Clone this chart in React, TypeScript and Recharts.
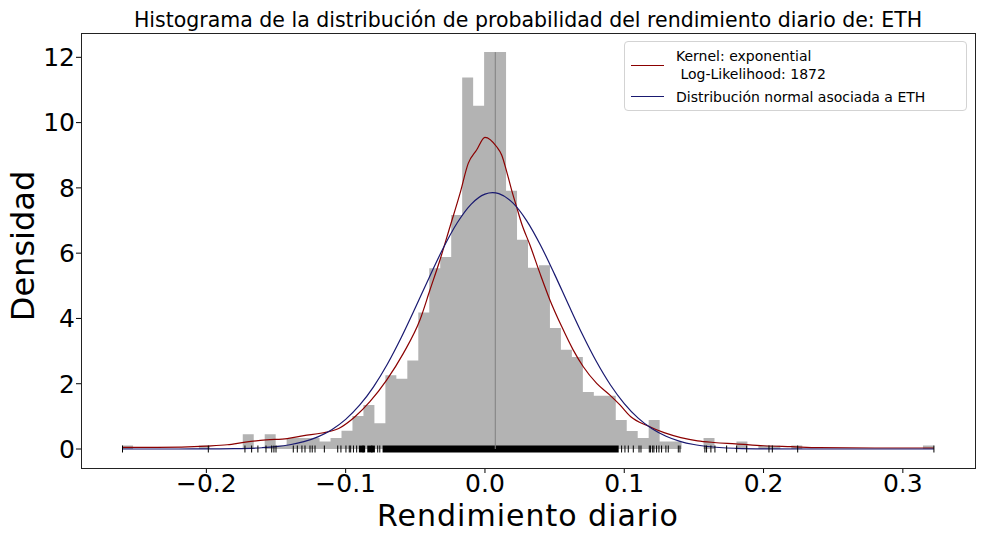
import React from "react";
import { ComposedChart, Area, Line, Scatter, XAxis, YAxis } from "recharts";

// histogram: 74 bins between min and max of daily returns
const histMin = -0.2605;
const histMax = 0.3223;
const histHeights = [
  0.11, 0, 0, 0, 0, 0, 0, 0.11, 0, 0, 0, 0.45, 0, 0.45, 0.11, 0.34, 0.34, 0.34,
  0.23, 0.34, 0.56, 1.01, 1.35, 0.79, 2.26, 2.15, 2.71, 4.18, 5.54, 5.88, 7.17,
  11.38, 10.52, 12.16, 12.16, 7.91, 6.41, 5.55, 5.63, 3.71, 3.04, 2.82, 1.75,
  1.63, 1.63, 0.89, 0.55, 0.34, 0.89, 0.23, 0.23, 0, 0, 0.34, 0, 0, 0.23, 0,
  0.11, 0.11, 0, 0.11, 0, 0, 0, 0, 0, 0, 0, 0, 0, 0, 0, 0.11,
];

// kernel density (exponential kernel)
const kdeX = [
  -0.2605, -0.235, -0.2, -0.185, -0.172, -0.157, -0.142, -0.13, -0.117, -0.105,
  -0.0933, -0.0826, -0.0706, -0.0586, -0.0467, -0.0395, -0.0323, -0.0251,
  -0.0179, -0.012, -0.006, 0.0, 0.0084, 0.012, 0.0156, 0.0191, 0.0227, 0.0263,
  0.0323, 0.0395, 0.0467, 0.0551, 0.0634, 0.0706, 0.0802, 0.0897, 0.0969,
  0.1047, 0.1167, 0.1286, 0.1406, 0.1526, 0.1645, 0.18, 0.2, 0.22, 0.24, 0.28,
  0.3223,
];
const kdeY = [
  0.05, 0.05, 0.09, 0.13, 0.21, 0.28, 0.32, 0.41, 0.49, 0.63, 0.99, 1.45, 2.11,
  2.93, 3.95, 4.87, 5.79, 6.81, 7.83, 8.75, 9.16, 9.55, 9.26, 9.01, 8.5, 7.94,
  7.42, 6.91, 6.25, 5.38, 4.56, 3.75, 3.03, 2.52, 2.01, 1.65, 1.35, 0.99, 0.71,
  0.5, 0.35, 0.25, 0.2, 0.16, 0.1, 0.07, 0.04, 0.03, 0.03,
];

// normal distribution curve
const normX = [
  -0.2605, -0.22, -0.2, -0.18, -0.16, -0.15, -0.14, -0.13, -0.12, -0.11, -0.1,
  -0.09, -0.08, -0.07, -0.06, -0.05, -0.04, -0.03, -0.02, -0.01, 0.0, 0.0055,
  0.01, 0.02, 0.03, 0.04, 0.05, 0.06, 0.07, 0.08, 0.09, 0.1, 0.11, 0.12, 0.13,
  0.14, 0.15, 0.16, 0.18, 0.2, 0.24, 0.3223,
];
const normY = [
  0, 0.0004, 0.002, 0.01, 0.039, 0.072, 0.13, 0.224, 0.372, 0.592, 0.908, 1.341,
  1.905, 2.603, 3.421, 4.324, 5.258, 6.151, 6.923, 7.496, 7.807, 7.853, 7.822,
  7.54, 6.991, 6.236, 5.35, 4.417, 3.507, 2.679, 1.969, 1.392, 0.946, 0.619,
  0.39, 0.236, 0.137, 0.077, 0.022, 0.005, 0, 0,
];

// vertical line position and height
const meanX = 0.0074;
const meanTop = 12.16;

// rug: single ticks in the tails, dense stretches in the middle
const rugTicks = [
  -0.2602, -0.1986, -0.1723, -0.1675, -0.163, -0.1572, -0.1531, -0.1515, -0.15,
  -0.1376, -0.1347, -0.1314, -0.1292, -0.1256, -0.124, -0.122, -0.1153,
  -0.1057, -0.1034, -0.0998, -0.0974, -0.0964, -0.0944, -0.0921, -0.0875,
  -0.0812, -0.077, -0.0755, 0.0981, 0.1005, 0.1029, 0.1065, 0.1106, 0.112,
  0.118, 0.1189, 0.1204, 0.1213, 0.1232, 0.1249, 0.1268, 0.1299, 0.1316,
  0.1388, 0.14, 0.1579, 0.1591, 0.1622, 0.1651, 0.1735, 0.1807, 0.1879, 0.2039,
  0.2063, 0.2245, 0.3223,
];
const rugBands = [
  [-0.0905, -0.086],
  [-0.0845, -0.079],
  [-0.0735, 0.096],
];
const rugHalf = 0.105;

const xTicks = [-0.2, -0.1, 0, 0.1, 0.2, 0.3];
const yTicks = [0, 2, 4, 6, 8, 10, 12];

const title =
  "Histograma de la distribución de probabilidad del rendimiento diario de: ETH";
const kdeLabel1 = "Kernel: exponential";
const kdeLabel2 = " Log-Likelihood: 1872";
const normLabel = "Distribución normal asociada a ETH";

const binWidth = (histMax - histMin) / histHeights.length;
const histData = histHeights
  .map((h, i) => ({ x: histMin + i * binWidth, y: h }))
  .concat([{ x: histMax, y: histHeights[histHeights.length - 1] }]);
const kdeData = kdeX.map((x, i) => ({ x, y: kdeY[i] }));
const normData = normX.map((x, i) => ({ x, y: normY[i] }));
const meanData = [
  { x: meanX, y: 0 },
  { x: meanX, y: meanTop },
];
const rugData = rugTicks.map((x) => ({ x, y: 0 }));
const bandData = rugBands.map((b) => [
  { x: b[0], y: [-rugHalf, rugHalf] },
  { x: b[1], y: [-rugHalf, rugHalf] },
]);

const font = "'DejaVu Sans', sans-serif";

const fmtX = (v: number) => (v < 0 ? "\u2212" : "") + Math.abs(v).toFixed(1);

const RugTick = (props: any) => {
  const { cx, cy } = props;
  return (
    <line x1={cx} x2={cx} y1={cy - 3.5} y2={cy + 3.5} stroke="#000" strokeWidth={1} />
  );
};

export default function App() {
  return (
    <div
      style={{
        position: "absolute",
        left: 0,
        top: 0,
        width: 993,
        height: 533,
        background: "#fff",
        fontFamily: font,
      }}
    >
      <ComposedChart
        width={993}
        height={533}
        margin={{ top: 33, right: 18, left: 0, bottom: 0 }}
      >
        <XAxis
          dataKey="x"
          type="number"
          domain={[-0.29, 0.3518]}
          allowDataOverflow
          ticks={xTicks}
          tickFormatter={fmtX}
          height={65}
          axisLine={false}
          tickLine={{ stroke: "#000" }}
          tickSize={5}
          tickMargin={1}
          tick={{ fontSize: 25, fill: "#000", fontFamily: font }}
        />
        <YAxis
          type="number"
          domain={[-0.582, 12.745]}
          allowDataOverflow
          ticks={yTicks}
          width={81}
          axisLine={false}
          tickLine={{ stroke: "#000" }}
          tickSize={5}
          tickMargin={1}
          tick={{ fontSize: 25, fill: "#000", fontFamily: font }}
        />
        <Area
          data={histData}
          dataKey="y"
          type="stepAfter"
          baseValue={0}
          fill="#b3b3b3"
          fillOpacity={1}
          stroke="none"
          dot={false}
          activeDot={false}
          isAnimationActive={false}
        />
        {bandData.map((d, i) => (
          <Area
            key={i}
            data={d}
            dataKey="y"
            type="linear"
            fill="#000"
            fillOpacity={1}
            stroke="none"
            dot={false}
            activeDot={false}
            isAnimationActive={false}
          />
        ))}
        <Scatter
          data={rugData}
          dataKey="y"
          shape={<RugTick />}
          isAnimationActive={false}
        />
        <Line
          data={meanData}
          dataKey="y"
          stroke="#808080"
          strokeWidth={1}
          dot={false}
          activeDot={false}
          isAnimationActive={false}
        />
        <Line
          data={kdeData}
          dataKey="y"
          type="monotone"
          stroke="#8b0000"
          strokeWidth={1.2}
          dot={false}
          activeDot={false}
          isAnimationActive={false}
        />
        <Line
          data={normData}
          dataKey="y"
          type="monotone"
          stroke="#191970"
          strokeWidth={1.2}
          dot={false}
          activeDot={false}
          isAnimationActive={false}
        />
      </ComposedChart>

      {/* axes frame */}
      <div
        style={{
          position: "absolute",
          left: 80.5,
          top: 32.5,
          width: 895,
          height: 436,
          border: "1px solid #222",
          boxSizing: "border-box",
          pointerEvents: "none",
        }}
      />

      <div
        style={{
          position: "absolute",
          left: 0,
          width: 1056,
          top: 9.7,
          fontSize: 20.5,
          lineHeight: "20.5px",
          textAlign: "center",
          whiteSpace: "nowrap",
        }}
      >
        {title}
      </div>

      <div
        style={{
          position: "absolute",
          left: 0,
          width: 1056,
          top: 505.5,
          fontSize: 30,
          letterSpacing: 1,
          lineHeight: "20px",
          textAlign: "center",
        }}
      >
        Rendimiento diario
      </div>

      <div
        style={{
          position: "absolute",
          left: 22.6 - 100,
          top: 245.6 - 16,
          width: 200,
          height: 32,
          fontSize: 32,
          lineHeight: "32px",
          textAlign: "center",
          transform: "rotate(-90deg)",
        }}
      >
        Densidad
      </div>

      {/* legend */}
      <div
        style={{
          position: "absolute",
          left: 624,
          top: 41,
          width: 343,
          height: 70,
          border: "1px solid #d3d3d3",
          borderRadius: 4,
          background: "rgba(255,255,255,0.8)",
          boxSizing: "border-box",
          fontSize: 14,
          lineHeight: "14px",
        }}
      >
        <div style={{ position: "absolute", left: 6, top: 23, width: 33, height: 1.2, background: "#8b0000" }} />
        <div style={{ position: "absolute", left: 6, top: 54, width: 33, height: 1.2, background: "#191970" }} />
        <div style={{ position: "absolute", left: 51, top: 7, whiteSpace: "pre" }}>{kdeLabel1}</div>
        <div style={{ position: "absolute", left: 51, top: 24.5, whiteSpace: "pre" }}>{kdeLabel2}</div>
        <div style={{ position: "absolute", left: 51, top: 48, whiteSpace: "pre" }}>{normLabel}</div>
      </div>
    </div>
  );
}
